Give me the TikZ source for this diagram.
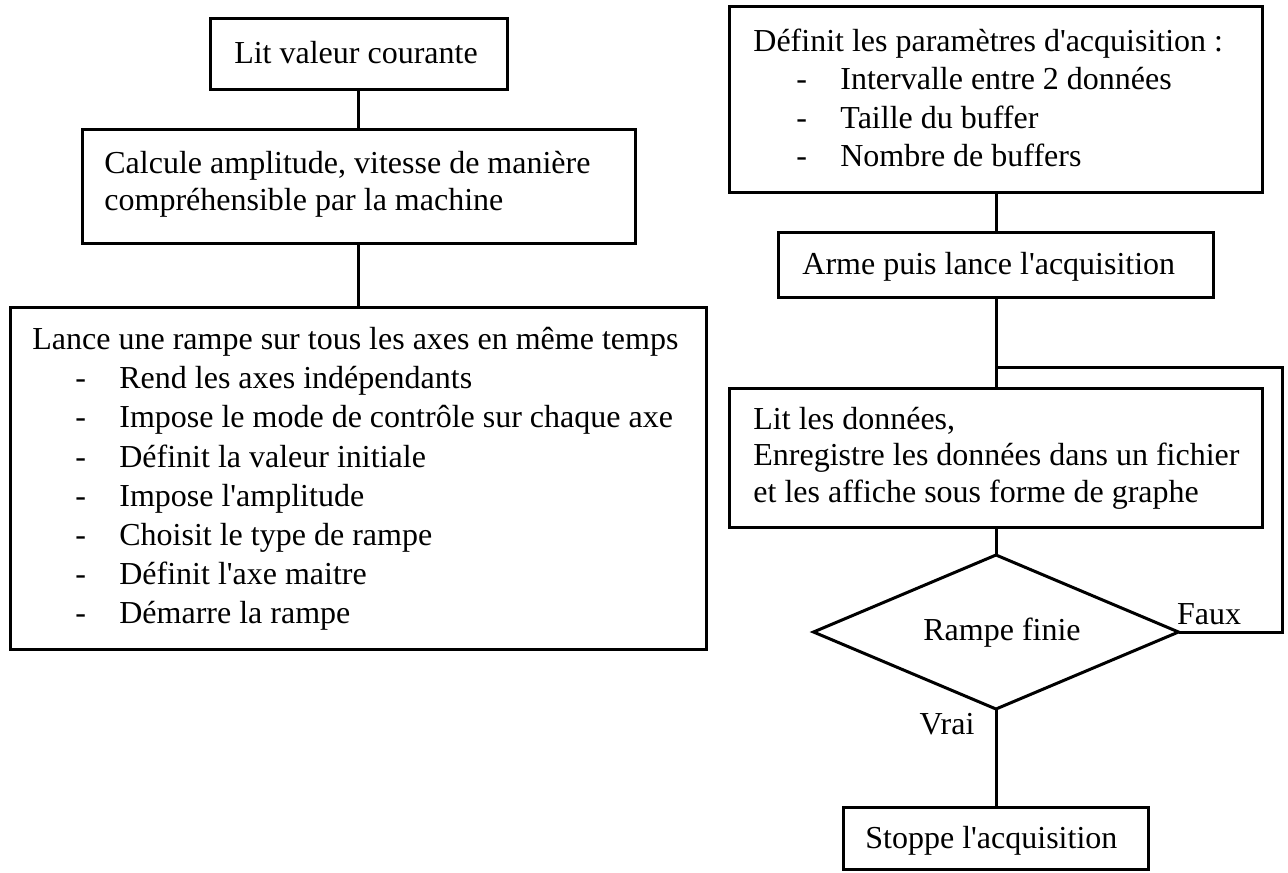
\documentclass[tikz,border=0pt]{standalone}
\usepackage{fontspec}
\setmainfont{Liberation Serif}[Ligatures=TeXOff]
\usetikzlibrary{shapes.geometric}
\newcommand{\bul}[1]{\hspace*{21.5pt}\makebox[22pt][l]{-}#1}
\tikzset{
  frame/.style={draw, line width=1.5pt, outer sep=0pt, inner sep=0pt},
  txt/.style={inner sep=0pt, anchor=west, align=left, font=\fontsize{16}{19.6}\selectfont},
  conn/.style={draw, line width=1.5pt},
  lbl/.style={inner sep=0pt, font=\fontsize{16}{19.5}\selectfont},
}
\begin{document}
\begin{tikzpicture}[x=0.5pt,y=-0.5pt]
\useasboundingbox (0,0) rectangle (1288,872);
% left column
\node[frame, minimum width=148.5pt, minimum height=35.5pt] (a) at (358.5,54.5) {};
\node[lbl] (at) at (356,53) {Lit valeur courante};
\node[frame, minimum width=276.5pt, minimum height=57pt] (b) at (358.5,186) {};
\node[txt, font=\fontsize{16}{18.5}\selectfont] (bt) at (104,184)
  {Calcule amplitude, vitesse de manière\\compréhensible par la machine};
\node[frame, minimum width=348pt, minimum height=171pt] (c) at (358.5,478) {};
\node[txt] (ct) at (32,479)
  {Lance une rampe sur tous les axes en même temps\\
   \bul{Rend les axes indépendants}\\
   \bul{Impose le mode de contrôle sur chaque axe}\\
   \bul{Définit la valeur initiale}\\
   \bul{Impose l'amplitude}\\
   \bul{Choisit le type de rampe}\\
   \bul{Définit l'axe maitre}\\
   \bul{Démarre la rampe}};
% right column
\node[frame, minimum width=266.5pt, minimum height=92.5pt] (d) at (996,99.5) {};
\node[txt, font=\fontsize{16}{19.2}\selectfont] (dt) at (753,98)
  {Définit les paramètres d'acquisition :\\
   \bul{Intervalle entre 2 données}\\
   \bul{Taille du buffer}\\
   \bul{Nombre de buffers}};
\node[frame, minimum width=217.5pt, minimum height=32.5pt] (e) at (996,264.5) {};
\node[txt] (et) at (802,267) {Arme puis lance l'acquisition};
\node[frame, minimum width=266.5pt, minimum height=69.5pt] (f) at (996,457.5) {};
\node[txt, font=\fontsize{16}{18.3}\selectfont] (ft) at (753,458)
  {Lit les données,\\Enregistre les données dans un fichier\\et les affiche sous forme de graphe};
\node[diamond, draw, line width=1.5pt, outer sep=0pt, inner sep=0pt, aspect=2.37,
  minimum width=182.5pt, minimum height=77pt] (g) at (996,632) {};
\node[lbl] (gt) at (1002,633) {Rampe finie};
\node[frame, minimum width=152.5pt, minimum height=31pt] (h) at (996,838) {};
\node[txt] (ht) at (865,841) {Stoppe l'acquisition};
\coordinate (j) at (996,367);
\coordinate (lp) at (1282,367);
% connectors
\draw[conn] (a.south) -- (b.north);
\draw[conn] (b.south) -- (c.north);
\draw[conn] (d.south) -- (e.north);
\draw[conn] (e.south) -- (f.north);
\draw[conn] (f.south) -- (g.north);
\draw[conn] (g.south) -- (h.north);
\draw[conn] (g.east) -| (lp) -- (j);
% labels
\node[lbl] (faux) at (1209,614) {Faux};
\node[lbl] (vrai) at (947,724) {Vrai};
\end{tikzpicture}
\end{document}
